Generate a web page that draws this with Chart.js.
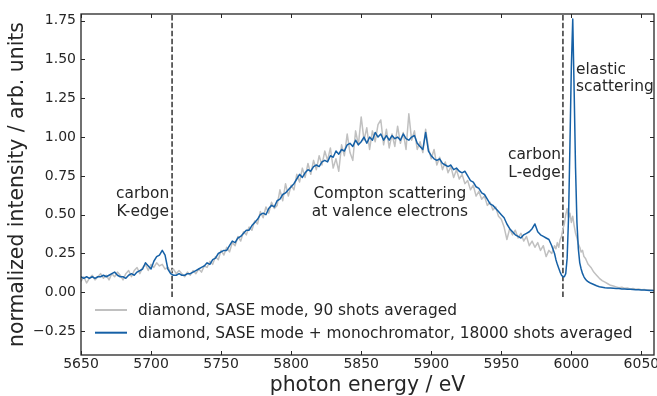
<!DOCTYPE html>
<html>
<head>
<meta charset="utf-8">
<title>Compton spectrum of diamond</title>
<script src="https://cdn.jsdelivr.net/npm/chart.js@4.4.1/dist/chart.umd.min.js"></script>
<style>
    html, body { margin: 0; padding: 0; background: #fff; }
    #wrap { position: relative; width: 657px; height: 396px; }
</style>
</head>
<body>
<div id="wrap"><canvas id="spectrum-chart"></canvas></div>
<script>
// photon energy (eV), 1 eV steps around the elastic line
const energies = [
    5650, 5652, 5654, 5656, 5658, 5660, 5662, 5664, 5666, 5668,
    5670, 5672, 5674, 5676, 5678, 5680, 5682, 5684, 5686, 5688,
    5690, 5692, 5694, 5696, 5698, 5700, 5702, 5704, 5706, 5708,
    5710, 5712, 5714, 5716, 5718, 5720, 5722, 5724, 5726, 5728,
    5730, 5732, 5734, 5736, 5738, 5740, 5742, 5744, 5746, 5748,
    5750, 5752, 5754, 5756, 5758, 5760, 5762, 5764, 5766, 5768,
    5770, 5772, 5774, 5776, 5778, 5780, 5782, 5784, 5786, 5788,
    5790, 5792, 5794, 5796, 5798, 5800, 5802, 5804, 5806, 5808,
    5810, 5812, 5814, 5816, 5818, 5820, 5822, 5824, 5826, 5828,
    5830, 5832, 5834, 5836, 5838, 5840, 5842, 5844, 5846, 5848,
    5850, 5852, 5854, 5856, 5858, 5860, 5862, 5864, 5866, 5868,
    5870, 5872, 5874, 5876, 5878, 5880, 5882, 5884, 5886, 5888,
    5890, 5892, 5894, 5896, 5898, 5900, 5902, 5904, 5906, 5908,
    5910, 5912, 5914, 5916, 5918, 5920, 5922, 5924, 5926, 5928,
    5930, 5932, 5934, 5936, 5938, 5940, 5942, 5944, 5946, 5948,
    5950, 5952, 5954, 5956, 5958, 5960, 5962, 5964, 5966, 5968,
    5970, 5972, 5974, 5976, 5978, 5980, 5982, 5984, 5986, 5988,
    5989, 5990, 5991, 5992, 5993, 5994, 5995, 5996, 5997, 5998,
    5999, 6000, 6001, 6002, 6003, 6004, 6005, 6006, 6007, 6008,
    6009, 6010, 6011, 6012, 6014, 6016, 6018, 6020, 6022, 6024,
    6026, 6028, 6030, 6032, 6034, 6036, 6038, 6040, 6042, 6044,
    6046, 6048, 6050, 6052, 6054, 6056, 6058, 6060
];

// diamond, SASE mode, 90 shots averaged
const sase90 = [
    0.07, 0.10, 0.06, 0.09, 0.11, 0.08, 0.10, 0.12, 0.09, 0.11,
    0.08, 0.12, 0.10, 0.13, 0.11, 0.08, 0.12, 0.14, 0.10, 0.14,
    0.16, 0.12, 0.16, 0.18, 0.14, 0.18, 0.16, 0.19, 0.17, 0.18,
    0.15, 0.16, 0.13, 0.15, 0.12, 0.14, 0.12, 0.10, 0.13, 0.11,
    0.14, 0.12, 0.15, 0.13, 0.17, 0.16, 0.20, 0.18, 0.23, 0.21,
    0.27, 0.24, 0.29, 0.26, 0.32, 0.30, 0.36, 0.33, 0.39, 0.37,
    0.42, 0.40, 0.46, 0.44, 0.52, 0.48, 0.55, 0.51, 0.58, 0.54,
    0.56, 0.66, 0.59, 0.70, 0.62, 0.69, 0.66, 0.76, 0.71, 0.80,
    0.74, 0.83, 0.76, 0.85, 0.79, 0.88, 0.82, 0.91, 0.85, 0.93,
    0.80, 0.86, 0.78, 0.95, 0.88, 1.02, 0.90, 0.85, 1.04, 0.95,
    1.13, 0.98, 1.06, 0.92, 1.04, 0.97, 1.08, 1.11, 0.95, 1.05,
    0.93, 1.02, 0.94, 1.07, 0.96, 1.03, 0.92, 1.15, 0.98, 1.04,
    0.92, 0.97, 0.90, 1.05, 0.93, 0.86, 0.92, 0.82, 0.87, 0.79,
    0.84, 0.77, 0.81, 0.74, 0.79, 0.73, 0.76, 0.70, 0.72, 0.66,
    0.69, 0.62, 0.65, 0.60, 0.62, 0.56, 0.58, 0.53, 0.55, 0.49,
    0.47, 0.42, 0.34, 0.41, 0.37, 0.40, 0.35, 0.38, 0.33, 0.36,
    0.30, 0.33, 0.29, 0.32, 0.27, 0.30, 0.23, 0.27, 0.25, 0.30,
    0.28, 0.32, 0.29, 0.34, 0.36, 0.41, 0.44, 0.50, 0.54, 0.48,
    0.51, 0.45, 0.49, 0.43, 0.38, 0.35, 0.31, 0.29, 0.26, 0.27,
    0.23, 0.22, 0.20, 0.18, 0.16, 0.13, 0.11, 0.09, 0.075, 0.065,
    0.055, 0.045, 0.04, 0.035, 0.03, 0.032, 0.026, 0.028, 0.022, 0.024,
    0.02, 0.021, 0.017, 0.018, 0.015, 0.016, 0.014, 0.013
];

// diamond, SASE mode + monochromator, 18000 shots averaged
const saseMono = [
    0.10, 0.09, 0.10, 0.09, 0.10, 0.09, 0.10, 0.10, 0.11, 0.10,
    0.11, 0.12, 0.13, 0.11, 0.10, 0.10, 0.09, 0.11, 0.12, 0.11,
    0.13, 0.14, 0.15, 0.19, 0.17, 0.15, 0.20, 0.23, 0.24, 0.27,
    0.24, 0.15, 0.12, 0.11, 0.11, 0.12, 0.11, 0.11, 0.12, 0.12,
    0.13, 0.14, 0.15, 0.16, 0.17, 0.19, 0.18, 0.21, 0.22, 0.25,
    0.26, 0.27, 0.27, 0.30, 0.33, 0.32, 0.35, 0.36, 0.38, 0.40,
    0.40, 0.43, 0.45, 0.47, 0.50, 0.51, 0.50, 0.54, 0.56, 0.55,
    0.59, 0.60, 0.63, 0.64, 0.66, 0.68, 0.70, 0.73, 0.76, 0.74,
    0.77, 0.79, 0.78, 0.81, 0.82, 0.81, 0.84, 0.85, 0.84, 0.88,
    0.87, 0.91, 0.89, 0.92, 0.91, 0.95, 0.96, 0.94, 0.98, 0.95,
    0.97, 1.00, 0.96, 1.00, 0.98, 1.03, 1.00, 1.02, 0.98, 1.01,
    0.98, 1.01, 0.99, 1.00, 0.98, 1.02, 0.99, 0.98, 1.00, 1.01,
    0.96, 0.94, 0.92, 1.03, 0.91, 0.88, 0.86, 0.85, 0.86, 0.83,
    0.82, 0.81, 0.82, 0.79, 0.80, 0.78, 0.77, 0.78, 0.75, 0.72,
    0.71, 0.68, 0.67, 0.64, 0.63, 0.60, 0.57, 0.56, 0.54, 0.52,
    0.50, 0.48, 0.44, 0.41, 0.39, 0.37, 0.36, 0.35, 0.37, 0.38,
    0.39, 0.41, 0.44, 0.39, 0.37, 0.36, 0.35, 0.34, 0.30, 0.25,
    0.21, 0.18, 0.155, 0.13, 0.11, 0.10, 0.10, 0.12, 0.22, 0.48,
    0.95, 1.45, 1.76, 1.30, 0.80, 0.45, 0.28, 0.19, 0.15, 0.12,
    0.10, 0.085, 0.075, 0.068, 0.058, 0.05, 0.042, 0.036, 0.033, 0.03,
    0.028, 0.027, 0.026, 0.025, 0.024, 0.022, 0.021, 0.02, 0.019, 0.018,
    0.017, 0.016, 0.015, 0.014, 0.013, 0.012, 0.011, 0.01
];

const seriesLabels = [
    'diamond, SASE mode, 90 shots averaged',
    'diamond, SASE mode + monochromator, 18000 shots averaged'
];

const xTickValues = [5650, 5700, 5750, 5800, 5850, 5900, 5950, 6000, 6050];
const yTickValues = [-0.25, 0, 0.25, 0.5, 0.75, 1, 1.25, 1.5, 1.75];

// carbon K-edge and L-edge markers (eV)
const edgeEnergies = [5715, 5994];
const edgeSpan = [-0.03, 1.9];

const notes = [
    { lines: ['carbon', 'K-edge'], x: 5694, y: 0.606, align: 'center' },
    { lines: ['Compton scattering', 'at valence electrons'], x: 5870.5, y: 0.606, align: 'center' },
    { lines: ['carbon', 'L-edge'], x: 5973.7, y: 0.857, align: 'center' },
    { lines: ['elastic', 'scattering'], x: 6003.4, y: 1.406, align: 'left' }
];

const TEXT_COLOR = '#262626';
const FONT = '"DejaVu Sans", Verdana, sans-serif';
const GRAY = '#c0c0c0';
const BLUE = '#1560a6';

function toPoints(xs, ys) {
    return xs.map((x, i) => ({ x: x, y: ys[i] }));
}

// box around the plot + inward ticks on all four sides
const framePlugin = {
    id: 'frame',
    afterDraw(chart) {
        const { ctx, chartArea: a, scales } = chart;
        const tick = 4;
        ctx.save();
        ctx.strokeStyle = TEXT_COLOR;
        ctx.lineWidth = 1;
        ctx.beginPath();
        xTickValues.forEach(v => {
            const px = Math.round(scales.x.getPixelForValue(v)) + 0.5;
            ctx.moveTo(px, a.bottom); ctx.lineTo(px, a.bottom - tick);
            ctx.moveTo(px, a.top); ctx.lineTo(px, a.top + tick);
        });
        yTickValues.forEach(v => {
            const py = Math.round(scales.y.getPixelForValue(v)) + 0.5;
            ctx.moveTo(a.left, py); ctx.lineTo(a.left + tick, py);
            ctx.moveTo(a.right, py); ctx.lineTo(a.right - tick, py);
        });
        ctx.stroke();
        ctx.lineWidth = 1.3;
        ctx.strokeRect(a.left, a.top, a.right - a.left, a.bottom - a.top);
        ctx.restore();
    }
};

// text labels placed in data coordinates
const notesPlugin = {
    id: 'notes',
    afterDatasetsDraw(chart) {
        const { ctx, scales } = chart;
        ctx.save();
        ctx.fillStyle = TEXT_COLOR;
        ctx.font = '15.4px ' + FONT;
        ctx.textBaseline = 'alphabetic';
        notes.forEach(n => {
            const px = scales.x.getPixelForValue(n.x);
            const py = scales.y.getPixelForValue(n.y);
            ctx.textAlign = n.align;
            n.lines.forEach((line, i) => ctx.fillText(line, px, py + i * 17.3));
        });
        ctx.restore();
    }
};

// matplotlib-style legend without frame, lower left inside the axes
const legendPlugin = {
    id: 'innerLegend',
    afterDraw(chart) {
        const { ctx, chartArea: a } = chart;
        const rows = chart.data.datasets.filter(d => d.label);
        ctx.save();
        ctx.font = '15.4px ' + FONT;
        ctx.textBaseline = 'middle';
        ctx.textAlign = 'left';
        rows.forEach((d, i) => {
            const y = a.bottom - 45 + i * 22.7;
            ctx.strokeStyle = d.borderColor;
            ctx.lineWidth = 2;
            ctx.beginPath();
            ctx.moveTo(a.left + 14, y);
            ctx.lineTo(a.left + 46, y);
            ctx.stroke();
            ctx.fillStyle = TEXT_COLOR;
            ctx.fillText(d.label, a.left + 57, y + 1);
        });
        ctx.restore();
    }
};

const datasets = [
    {
        label: seriesLabels[0],
        data: toPoints(energies, sase90),
        borderColor: GRAY,
        borderWidth: 1.5,
        order: 1
    },
    {
        label: seriesLabels[1],
        data: toPoints(energies, saseMono),
        borderColor: BLUE,
        borderWidth: 1.5,
        order: 0
    }
];
edgeEnergies.forEach(e => {
    datasets.push({
        data: toPoints([e, e], edgeSpan),
        borderColor: '#333333',
        borderWidth: 1.5,
        borderDash: [5.5, 2.4],
        order: 2
    });
});

new Chart(document.getElementById('spectrum-chart'), {
    type: 'line',
    data: { datasets: datasets },
    options: {
        responsive: true,
        maintainAspectRatio: false,
        animation: false,
        events: [],
        layout: { autoPadding: false, padding: { top: 14, right: 3, left: 0, bottom: 0 } },
        elements: {
            point: { radius: 0 },
            line: { tension: 0, borderJoinStyle: 'round' }
        },
        plugins: {
            legend: { display: false },
            tooltip: { enabled: false }
        },
        scales: {
            x: {
                type: 'linear',
                min: 5650,
                max: 6059,
                grid: { display: false, drawTicks: false },
                border: { display: false },
                afterBuildTicks: s => { s.ticks = xTickValues.map(v => ({ value: v })); },
                afterFit: s => {
                    s.height = 41;
                    s.paddingLeft = 0;
                    s.paddingRight = 0;
                },
                ticks: {
                    padding: 1,
                    maxRotation: 0,
                    color: TEXT_COLOR,
                    font: { family: FONT, size: 14 },
                    callback: v => String(v)
                },
                title: {
                    display: true,
                    text: 'photon energy / eV',
                    color: TEXT_COLOR,
                    font: { family: FONT, size: 20.4, lineHeight: 1 },
                    padding: { top: 0, bottom: 0 }
                }
            },
            y: {
                type: 'linear',
                min: -0.404,
                max: 1.793,
                grid: { display: false, drawTicks: false },
                border: { display: false },
                afterBuildTicks: s => { s.ticks = yTickValues.map(v => ({ value: v })); },
                afterFit: s => {
                    s.width = 81;
                    s.paddingTop = 0;
                    s.paddingBottom = 0;
                },
                ticks: {
                    padding: 5,
                    color: TEXT_COLOR,
                    font: { family: FONT, size: 14 },
                    callback: v => (v < 0 ? '\u2212' : '') + Math.abs(v).toFixed(2)
                },
                title: {
                    display: true,
                    text: 'normalized intensity / arb. units',
                    color: TEXT_COLOR,
                    font: { family: FONT, size: 20.4, lineHeight: 1 },
                    padding: { top: 8, bottom: 0 }
                }
            }
        }
    },
    plugins: [framePlugin, notesPlugin, legendPlugin]
});
</script>
</body>
</html>
